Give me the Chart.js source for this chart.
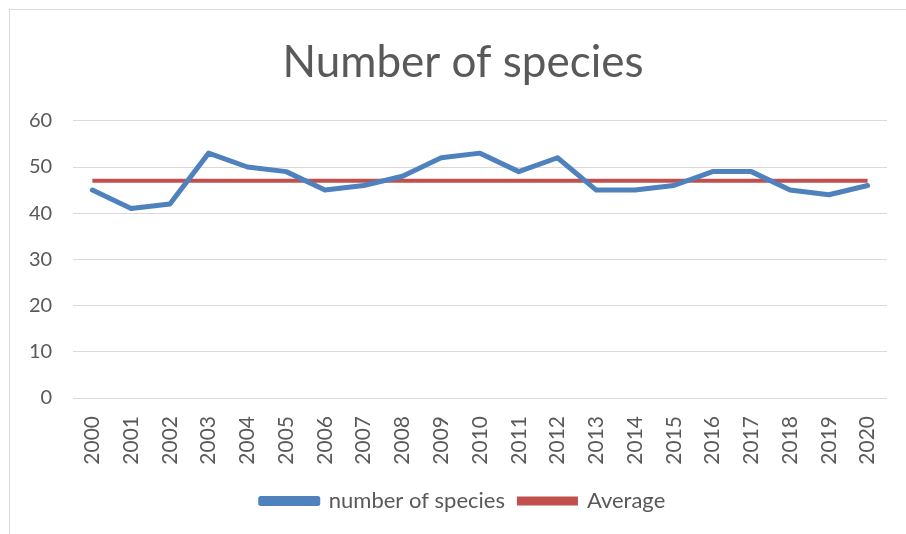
<!DOCTYPE html>
<html>
<head>
<meta charset="utf-8">
<script src="https://cdn.jsdelivr.net/npm/chart.js@4"></script>
<style>
  html, body { margin: 0; padding: 0; background: #ffffff; }
  #wrap { position: relative; width: 906px; height: 534px; overflow: hidden; }
  #frame { position: absolute; left: 9px; top: 9px; width: 1000px; height: 1000px; border: 1px solid #d9d9d9; box-sizing: border-box; }
  canvas { position: absolute; left: 0; top: 0; }
</style>
</head>
<body>
<div id="wrap">
  <div id="frame"></div>
  <canvas id="c" width="906" height="534"></canvas>
</div>
<script>
const years = ['2000','2001','2002','2003','2004','2005','2006','2007','2008','2009','2010','2011','2012','2013','2014','2015','2016','2017','2018','2019','2020'];
const speciesCounts = [45, 41, 42, 53, 50, 49, 45, 46, 48, 52, 53, 49, 52, 45, 45, 46, 49, 49, 45, 44, 46];
const averageValues = [47, 47, 47, 47, 47, 47, 47, 47, 47, 47, 47, 47, 47, 47, 47, 47, 47, 47, 47, 47, 47];
const yTicks = [0, 10, 20, 30, 40, 50, 60];

const textColor = '#595959';
const fontFamily = 'Lato, "Open Sans", sans-serif';

new Chart(document.getElementById('c'), {
  type: 'line',
  data: {
    labels: years,
    datasets: [
      {
        label: 'number of species',
        data: speciesCounts,
        borderColor: '#4f81bd',
        backgroundColor: '#4f81bd',
        borderWidth: 5,
        pointRadius: 0,
        tension: 0,
        borderJoinStyle: 'round',
        borderCapStyle: 'round'
      },
      {
        label: 'Average',
        data: averageValues,
        borderColor: '#c0504d',
        backgroundColor: '#c0504d',
        borderWidth: 4,
        pointRadius: 0,
        tension: 0
      }
    ]
  },
  options: {
    responsive: false,
    animation: false,
    devicePixelRatio: 1,
    layout: { padding: { left: 39, right: 19, top: 22, bottom: 12 } },
    plugins: {
      title: {
        display: true,
        text: 'Number of species',
        color: textColor,
        font: { family: fontFamily, size: 44, weight: 'normal' },
        padding: { top: 14, bottom: 32 }
      },
      legend: {
        position: 'bottom',
        labels: {
          color: textColor,
          font: { family: fontFamily, size: 22 },
          boxWidth: 57,
          boxHeight: 5,
          padding: 14
        }
      },
      tooltip: { enabled: false }
    },
    scales: {
      x: {
        offset: true,
        grid: { display: false },
        border: { display: false },
        ticks: {
          color: textColor,
          font: { family: fontFamily, size: 21 },
          minRotation: 90,
          maxRotation: 90,
          autoSkip: false,
          padding: 10
        },
        afterFit: (s) => { s.height = 78; }
      },
      y: {
        min: 0,
        max: 60,
        afterBuildTicks: (s) => { s.ticks = yTicks.map(v => ({ value: v })); },
        grid: { color: '#d9d9d9', lineWidth: 1, drawTicks: false },
        border: { display: false },
        ticks: {
          color: textColor,
          font: { family: fontFamily, size: 20 },
          mirror: true,
          crossAlign: 'far',
          padding: -44
        },
        afterFit: (s) => { s.width = 34; }
      }
    }
  }
});
</script>
</body>
</html>
